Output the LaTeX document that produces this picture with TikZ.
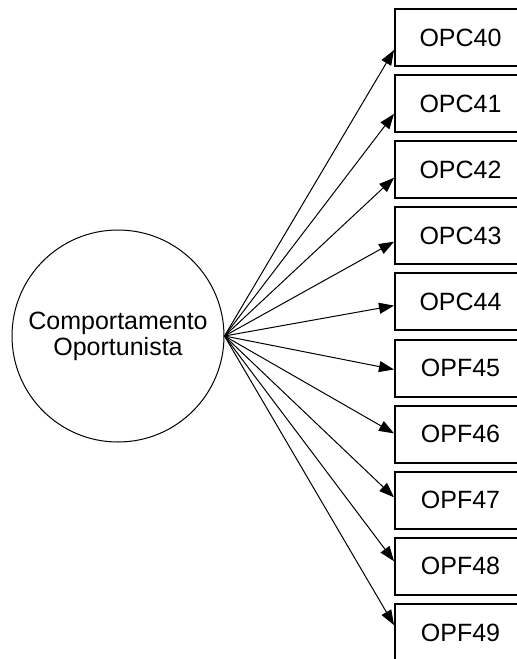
\documentclass[tikz,border=0pt]{standalone}
\usepackage{fontspec}
\setmainfont{Liberation Sans}
\usetikzlibrary{arrows.meta}
\begin{document}
\begin{tikzpicture}[x=1pt,y=-1pt,
  latent/.style={circle,draw,line width=1pt,minimum size=212pt,inner sep=0pt,
    align=center,font=\fontsize{25}{26}\selectfont},
  indicator/.style={draw,line width=2pt,minimum width=131pt,minimum height=57pt,
    inner sep=0pt,font=\fontsize{25}{30}\selectfont},
  loading/.style={-{Triangle[length=15pt,width=11pt]},line width=1pt}]
\useasboundingbox (0,0) rectangle (517,659);
\clip (0,0) rectangle (517,659);

% latent construct
\node[latent] (c) at (118,336) {Comportamento\\Oportunista};

% observed indicators and their loadings
\foreach \k/\t in {0/OPC40,1/OPC41,2/OPC42,3/OPC43,4/OPC44,
                   5/OPF45,6/OPF46,7/OPF47,8/OPF48,9/OPF49} {
  \node[indicator] (b\k) at (460.5,{37.5+66.1*\k}) {\t};
  \pgfmathsetmacro\d{2.2*\k-12.5}
  \draw[loading] (c.east) -- ([yshift=\d pt]b\k.west);
}
\end{tikzpicture}
\end{document}
